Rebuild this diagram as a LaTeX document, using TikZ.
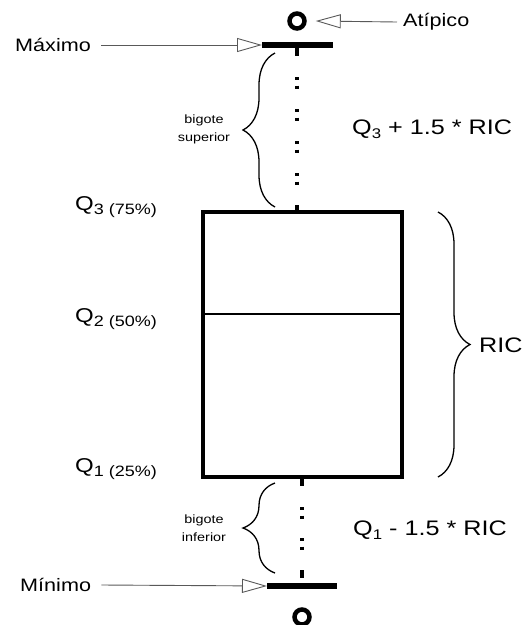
\documentclass[tikz,border=0pt]{standalone}
\usepackage{fontspec}
\setmainfont{Liberation Sans}
\usetikzlibrary{arrows.meta,decorations.pathreplacing}

\newcommand{\cuartil}[2]{\fontsize{20}{22}\selectfont Q\raisebox{-4.5pt}{\fontsize{15}{16}\selectfont #1 (#2\%)}}
\newcommand{\limite}[2]{\fontsize{21}{24}\selectfont Q\raisebox{-4pt}{\fontsize{14}{16}\selectfont #1} #2 1.5 * RIC}

\begin{document}
\begin{tikzpicture}[x=1pt,y=-1pt,
  txt/.style={font=\fontsize{18}{20}\selectfont, xscale=1.2, inner sep=0pt},
  chico/.style={font=\fontsize{12}{18}\selectfont, xscale=1.2, inner sep=0pt, align=center},
  ptr/.style={draw=black!65, line width=0.9pt, -{Triangle[open, length=25pt, width=14pt]}},
  wsk/.style={line width=3.5pt},
  barra/.style={line width=5.5pt},
  brc/.style={decorate, decoration={brace, amplitude=32pt}, line width=1.3pt},
  atip/.style={circle, draw, line width=4.5pt, minimum size=15pt, inner sep=0pt}]
\useasboundingbox (0,0) rectangle (522,625);

% caja
\draw[line width=3.5pt] (203,212) rectangle (402,477);
\draw[line width=2.2pt] (203,314) -- (402,314);

% bigote superior
\coordinate (maxA) at (262,45);
\coordinate (maxB) at (333,45);
\draw[barra] (maxA) -- (maxB);
\draw[wsk] (297,45) -- (297,56);
\foreach \y in {77,109,141,173} {
  \draw[wsk] (297,\y) -- ++(0,3) (297,\y+8.5) -- ++(0,3);
}
\draw[wsk] (297,205) -- (297,212);
\node[atip] (out1) at (297,21) {};

% bigote inferior
\coordinate (minA) at (267,586);
\coordinate (minB) at (337,586);
\draw[barra] (minA) -- (minB);
\draw[wsk] (302,477) -- (302,486);
\foreach \y in {507,538} {
  \draw[wsk] (302,\y) -- ++(0,3) (302,\y+8.5) -- ++(0,3);
}
\draw[wsk] (302,570) -- (302,578);
\node[atip] (out2) at (302,617) {};

% etiquetas
\node[txt, anchor=west] (atipico) at (403,22) {Atípico};
\node[txt, anchor=west] (maximo) at (15,45) {Máximo};
\node[txt, anchor=west] (minimo) at (20,585) {Mínimo};
\draw[ptr] ([xshift=-6pt]atipico.west) -- ([xshift=9pt]out1.east);
\draw[ptr] ([xshift=10pt]maximo.east) -- (maxA);
\draw[ptr] ([xshift=10pt]minimo.east) -- (minA);

\node[txt, anchor=base west] (q3) at (75,210) {\cuartil{3}{75}};
\node[txt, anchor=base west] (q2) at (75,322) {\cuartil{2}{50}};
\node[txt, anchor=base west] (q1) at (75,472) {\cuartil{1}{25}};

% llaves
\draw[brc] (275,207) -- (275,53);
\node[chico] (bsup) at (204,129) {bigote\\superior};
\draw[brc] (275,573) -- (275,483);
\node[chico] (binf) at (204,528) {bigote\\inferior};
\draw[brc] (438,212) -- (438,477);
\node[txt, font=\fontsize{21}{24}\selectfont, anchor=west] (ric) at (479,345) {RIC};

\node[txt, anchor=west] (lsup) at (352,129) {\limite{3}{+}};
\node[txt, anchor=west] (linf) at (353,530) {\limite{1}{-}};
\end{tikzpicture}
\end{document}
